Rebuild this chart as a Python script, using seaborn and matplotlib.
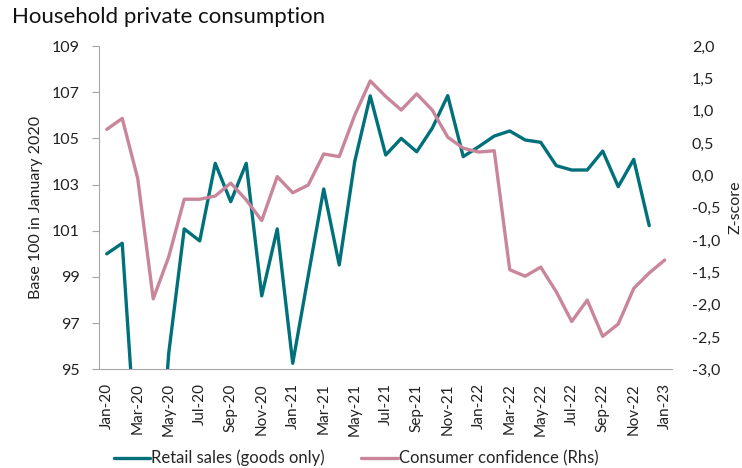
import matplotlib
matplotlib.use("Agg")
import matplotlib.pyplot as plt
import seaborn as sns
import pandas as pd
import numpy as np

months = ["Jan-20", "Feb-20", "Mar-20", "Apr-20", "May-20", "Jun-20", "Jul-20", "Aug-20", "Sep-20",
          "Oct-20", "Nov-20", "Dec-20", "Jan-21", "Feb-21", "Mar-21", "Apr-21", "May-21", "Jun-21",
          "Jul-21", "Aug-21", "Sep-21", "Oct-21", "Nov-21", "Dec-21", "Jan-22", "Feb-22", "Mar-22",
          "Apr-22", "May-22", "Jun-22", "Jul-22", "Aug-22", "Sep-22", "Oct-22", "Nov-22", "Dec-22",
          "Jan-23"]

retail = [100.0, 100.46, 90.4, 86.5, 95.7, 101.08, 100.56, 103.92, 102.26,
          103.92, 98.18, 101.08, 95.26, 99.05, 102.81, 99.52, 104.0, 106.84,
          104.28, 105.0, 104.42, 105.44, 106.85, 104.21, 104.64, 105.1, 105.32,
          104.93, 104.83, 103.82, 103.63, 103.63, 104.45, 102.91, 104.09, 101.22,
          np.nan]

confidence = [0.71, 0.88, -0.05, -1.91, -1.26, -0.37, -0.37, -0.32, -0.12,
              -0.38, -0.70, -0.02, -0.27, -0.15, 0.33, 0.29, 0.93, 1.46,
              1.22, 1.01, 1.26, 1.01, 0.59, 0.42, 0.36, 0.38, -1.46,
              -1.56, -1.42, -1.80, -2.26, -1.93, -2.49, -2.30, -1.75, -1.51,
              -1.31]

left_ticks = [95, 97, 99, 101, 103, 105, 107, 109]
right_ticks = [-3.0, -2.5, -2.0, -1.5, -1.0, -0.5, 0.0, 0.5, 1.0, 1.5, 2.0]

TEAL = "#00707A"
PINK = "#C9869A"

sns.set_theme(style="white")
plt.rcParams["font.family"] = ["Lato", "DejaVu Sans"]

df = pd.DataFrame({"idx": np.arange(len(months)), "month": months,
                   "retail": retail, "confidence": confidence})

fig = plt.figure(figsize=(7.42, 4.68), dpi=100)
ax = fig.add_axes([0.1334, 0.2109, 0.7729, 0.6908])
ax2 = ax.twinx()

sns.lineplot(data=df, x="idx", y="retail", ax=ax, color=TEAL, linewidth=2.4,
             label="Retail sales (goods only)", legend=False)
sns.lineplot(data=df, x="idx", y="confidence", ax=ax2, color=PINK, linewidth=2.4,
             label="Consumer confidence (Rhs)", legend=False)

ax.set_xlim(-0.5, len(months) - 0.5)
ax.set_ylim(95, 109)
ax2.set_ylim(-3, 2)

ax.set_yticks(left_ticks)
ax.set_yticklabels([str(t) for t in left_ticks], fontsize=11.5, color="#222222")
ax2.set_yticks(right_ticks)
ax2.set_yticklabels([f"{t:.1f}".replace(".", ",") for t in right_ticks], fontsize=11.5, color="#222222")

ax.set_xticks(np.arange(0, len(months), 2))
ax.set_xticklabels(months[::2], rotation=90, fontsize=11, color="#222222")
ax.set_xticks(np.arange(-0.5, len(months), 2), minor=True)
ax.tick_params(axis="x", which="major", length=0, pad=10)
ax.tick_params(axis="x", which="minor", length=5, width=0.8, color="#A6A6A6", direction="out")
ax.tick_params(axis="y", length=5, width=0.8, color="#A6A6A6", direction="out", pad=9, left=True)
ax2.tick_params(axis="y", length=0, pad=14, right=True)

for a in (ax, ax2):
    for s in a.spines.values():
        s.set_visible(False)
ax.spines["left"].set_visible(True)
ax.spines["left"].set_color("#A6A6A6")
ax.spines["left"].set_linewidth(0.8)
ax.spines["bottom"].set_visible(True)
ax.spines["bottom"].set_color("#A6A6A6")
ax.spines["bottom"].set_linewidth(0.8)

ax.set_xlabel("")
ax.set_ylabel("Base 100 in January 2020", fontsize=11.5, color="#222222", labelpad=6)
ax2.set_ylabel("Z-score", fontsize=11.5, color="#222222", labelpad=6)
ax.grid(False)
ax2.grid(False)

fig.text(0.016, 0.963, "Household private consumption", fontsize=16, color="#111111",
         ha="left", va="center")

h1, l1 = ax.get_legend_handles_labels()
h2, l2 = ax2.get_legend_handles_labels()
fig.legend(h1 + h2, l1 + l2, loc="center", bbox_to_anchor=(0.48, 0.021), ncol=2,
           frameon=False, fontsize=12, handlelength=2.2, handletextpad=0.05,
           columnspacing=2.2)

fig.savefig("out.png", dpi=100)
